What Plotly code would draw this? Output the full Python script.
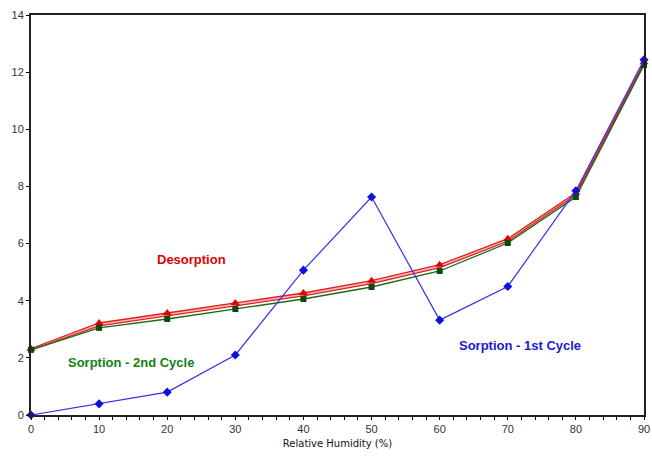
import plotly.graph_objects as go

rh = [0, 10, 20, 30, 40, 50, 60, 70, 80, 90]
sorption_1st = [0.0, 0.39, 0.80, 2.10, 5.07, 7.63, 3.32, 4.50, 7.85, 12.43]
desorption_a = [2.32, 3.22, 3.57, 3.92, 4.27, 4.70, 5.26, 6.17, 7.78, 12.35]
desorption_b = [2.28, 3.12, 3.47, 3.82, 4.17, 4.60, 5.16, 6.08, 7.70, 12.30]
sorption_2nd = [2.28, 3.05, 3.36, 3.71, 4.06, 4.48, 5.04, 6.02, 7.63, 12.25]

x_ticks = [0, 10, 20, 30, 40, 50, 60, 70, 80, 90]
y_ticks = [0, 2, 4, 6, 8, 10, 12, 14]

fig = go.Figure()

fig.add_trace(go.Scatter(
    x=rh, y=desorption_b, mode="lines",
    line=dict(color="#e02020", width=1.3), showlegend=False, cliponaxis=False))
fig.add_trace(go.Scatter(
    x=rh, y=desorption_a, mode="lines+markers",
    line=dict(color="#e02020", width=1.3),
    fill="tonexty", fillcolor="rgba(240,120,120,0.5)",
    marker=dict(symbol="triangle-up", size=8, color="#e00000"),
    showlegend=False, cliponaxis=False))
fig.add_trace(go.Scatter(
    x=rh, y=sorption_2nd, mode="lines+markers",
    line=dict(color="#1a6a1a", width=1.3),
    marker=dict(symbol="square", size=6, color="#0a4a0a"),
    showlegend=False, cliponaxis=False))
fig.add_trace(go.Scatter(
    x=rh, y=sorption_1st, mode="lines+markers",
    line=dict(color="#3333ee", width=1.2),
    marker=dict(symbol="diamond", size=7, color="#1010dd"),
    showlegend=False, cliponaxis=False))

ann_font = dict(family="Liberation Sans, Arial, sans-serif", size=13)
fig.add_annotation(x=23.6, y=5.46, text="<b>Desorption</b>", showarrow=False,
                   font=dict(color="#e00000", **ann_font))
fig.add_annotation(x=14.7, y=1.85, text="<b>Sorption - 2nd Cycle</b>", showarrow=False,
                   font=dict(color="#138013", **ann_font))
fig.add_annotation(x=71.8, y=2.42, text="<b>Sorption - 1st Cycle</b>", showarrow=False,
                   font=dict(color="#1a1ad0", **ann_font))

fig.update_layout(
    width=652, height=457,
    margin=dict(l=31, r=8, t=15, b=42, autoexpand=False),
    paper_bgcolor="white", plot_bgcolor="white",
    font=dict(family="Liberation Sans, Arial, sans-serif", color="#333333", size=11),
    xaxis=dict(
        range=[0, 90], tickvals=x_ticks, ticks="outside", ticklen=3, tickwidth=1,
        tickcolor="black", showgrid=False, zeroline=False, automargin=False,
        showline=True, linecolor="#222222", linewidth=2, mirror=True,
        minor=dict(dtick=2, ticks="outside", ticklen=3, tickcolor="black", showgrid=False),
        title=dict(text="Relative Humidity (%)",
                   font=dict(family="DejaVu Sans, sans-serif", size=10, color="#111111"),
                   standoff=6),
        tickfont=dict(size=11, color="#333333"), ticklabeloverflow="allow",
    ),
    yaxis=dict(
        range=[0, 14], tickvals=y_ticks, ticks="outside", ticklen=3, tickwidth=1,
        tickcolor="black", showgrid=False, zeroline=False, automargin=False,
        showline=True, linecolor="#222222", linewidth=2, mirror=True,
        tickfont=dict(size=11, color="#333333"),
    ),
)

fig.write_html(
    "out.html",
    config={"displayModeBar": False},
    post_script="document.body.style.margin='0';document.body.style.overflow='hidden';",
)
